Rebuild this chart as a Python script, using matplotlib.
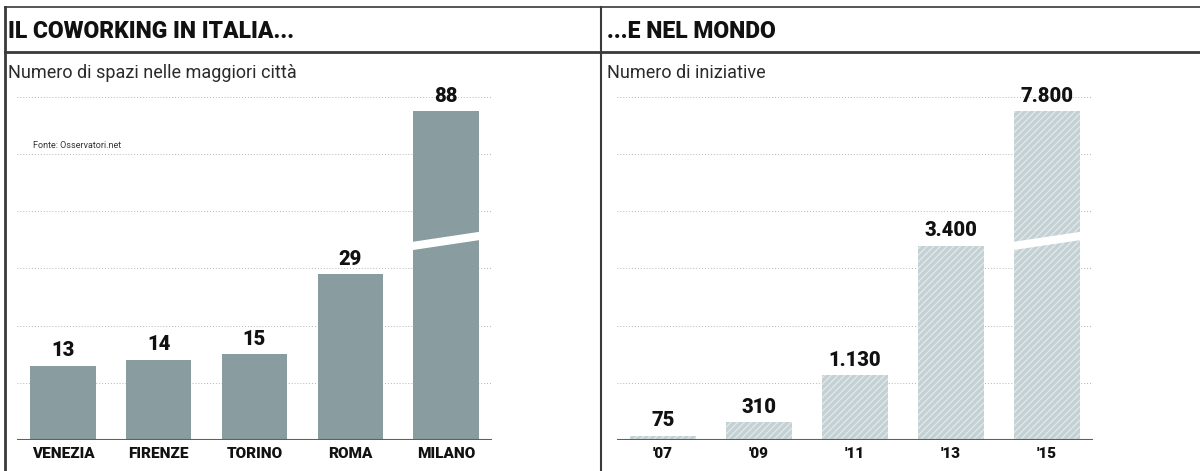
import matplotlib
matplotlib.use("Agg")
import matplotlib.pyplot as plt
from matplotlib.patches import Polygon

plt.rcParams['font.family'] = ['Roboto', 'DejaVu Sans']

# dati
citta = ['VENEZIA', 'FIRENZE', 'TORINO', 'ROMA', 'MILANO']
spazi = [13, 14, 15, 29, 88]
spazi_lbl = ['13', '14', '15', '29', '88']

anni = ["'07", "'09", "'11", "'13", "'15"]
iniziative = [75, 310, 1130, 3400, 7800]
iniziative_lbl = ['75', '310', '1.130', '3.400', '7.800']

W, H = 1200, 471
fig = plt.figure(figsize=(W / 100, H / 100), dpi=100)

# fondo in coordinate pixel per cornici e titoli
bg = fig.add_axes([0, 0, 1, 1])
bg.set_xlim(0, W)
bg.set_ylim(H, 0)
bg.axis('off')

rule = '#3a3a3a'
bg.plot([5, W], [7, 7], color=rule, lw=1.2)
bg.plot([5, W], [52, 52], color=rule, lw=2)
bg.plot([5, 5], [7, H], color=rule, lw=2)
bg.plot([601, 601], [7, H], color=rule, lw=1.5)

bg.text(8, 31, 'IL COWORKING IN ITALIA...', fontsize=16.5, fontweight='black',
        va='center', ha='left', color='#111111')
bg.text(607, 31, '...E NEL MONDO', fontsize=16.5, fontweight='black',
        va='center', ha='left', color='#111111')
bg.text(8, 73, 'Numero di spazi nelle maggiori città', fontsize=13,
        va='center', ha='left', color='#2a2a2a')
bg.text(607, 73, 'Numero di iniziative', fontsize=13,
        va='center', ha='left', color='#2a2a2a')
bg.text(33, 146, 'Fonte: Osservatori.net', fontsize=6.5,
        va='center', ha='left', color='#333333')


def pannello(x0, x1, valori, etichette, lbl, passo, colore, hatch, hatch_col):
    base, top = 440, 88
    ax = fig.add_axes([x0 / W, 1 - base / H, (x1 - x0) / W, (base - top) / H])
    ymax = passo * (base - top) / 57.2
    ax.set_xlim(-0.48, 4.48)
    ax.set_ylim(0, ymax)
    cap = passo * 5.75
    altezze = [min(v, cap) for v in valori]
    pos = list(range(len(valori)))
    ax.bar(pos, altezze, width=0.68, color=colore, hatch=hatch,
           edgecolor=hatch_col, linewidth=0, zorder=2)
    for g in range(1, 7):
        ax.axhline(g * passo, color='#b5b5b5', lw=0.7, ls=(0, (1, 2)), zorder=1)
    ax.axhline(0, color='#5a5f72', lw=1.5, zorder=3)
    for p, v, h, t in zip(pos, valori, altezze, lbl):
        ax.annotate(t, (p, h), xytext=(0, 4), textcoords='offset points',
                    ha='center', va='bottom', fontsize=14.5, fontweight='black',
                    color='#111111')
        if v > cap:
            # taglio della barra spezzata
            y0 = passo * 3.33
            poly = Polygon([(p - 0.36, y0), (p + 0.36, y0 + passo * 0.18),
                            (p + 0.36, y0 + passo * 0.30),
                            (p - 0.36, y0 + passo * 0.12)],
                           closed=True, color='white', zorder=4)
            ax.add_patch(poly)
    ax.set_xticks(pos)
    ax.set_xticklabels(etichette, fontsize=11, fontweight='black', color='#111111')
    ax.tick_params(axis='x', length=0, pad=5)
    ax.set_yticks([])
    for s in ax.spines.values():
        s.set_visible(False)
    ax.patch.set_alpha(0)
    return ax


pannello(17, 492, spazi, citta, spazi_lbl, 10, '#899da1', None, '#899da1')
pannello(617, 1093, iniziative, anni, iniziative_lbl, 1000, '#c4d1d4', '/////', '#dfe7e8')

fig.savefig('out.png', dpi=100)
